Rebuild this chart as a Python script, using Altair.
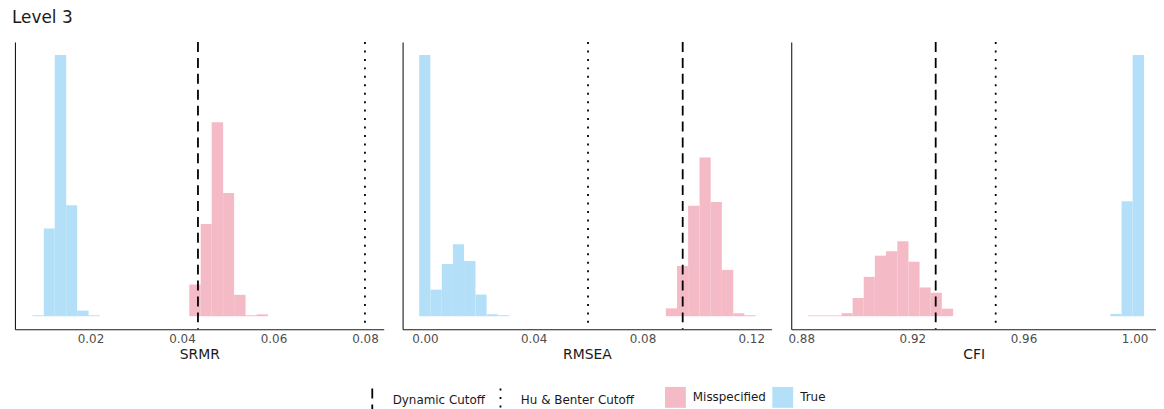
import altair as alt
import pandas as pd

FONT = "DejaVu Sans"

# ---- data ----
metrics = ["SRMR", "RMSEA", "CFI"]

srmr_true_lo = [0.0073, 0.0098, 0.0122, 0.0147, 0.0171, 0.0196]
srmr_true_hi = [0.0098, 0.0122, 0.0147, 0.0171, 0.0196, 0.0220]
srmr_true_n = [1, 94, 280, 119, 6, 1]
srmr_mis_lo = [0.0416, 0.0441, 0.0465, 0.0490, 0.0514, 0.0539, 0.0563]
srmr_mis_hi = [0.0441, 0.0465, 0.0490, 0.0514, 0.0539, 0.0563, 0.0588]
srmr_mis_n = [34, 99, 208, 132, 23, 1, 2]

rmsea_true_lo = [-0.0021, 0.0020, 0.0062, 0.0103, 0.0144, 0.0186, 0.0227, 0.0268]
rmsea_true_hi = [0.0020, 0.0062, 0.0103, 0.0144, 0.0186, 0.0227, 0.0268, 0.0310]
rmsea_true_n = [265, 27, 53, 73, 56, 22, 2, 1]
rmsea_mis_lo = [0.0886, 0.0927, 0.0968, 0.1010, 0.1051, 0.1092, 0.1134, 0.1175]
rmsea_mis_hi = [0.0927, 0.0968, 0.1010, 0.1051, 0.1092, 0.1134, 0.1175, 0.1216]
rmsea_mis_n = [8, 51, 112, 161, 116, 47, 3, 1]

cfi_mis_lo = [0.8824, 0.8864, 0.8904, 0.8945, 0.8985, 0.9025, 0.9065, 0.9105,
              0.9146, 0.9186, 0.9226, 0.9266, 0.9306]
cfi_mis_hi = [0.8864, 0.8904, 0.8945, 0.8985, 0.9025, 0.9065, 0.9105, 0.9146,
              0.9186, 0.9226, 0.9266, 0.9306, 0.9347]
cfi_mis_n = [1, 1, 1, 4, 24, 52, 80, 86, 99, 72, 38, 31, 10]
cfi_true_lo = [0.9913, 0.9953, 0.9993]
cfi_true_hi = [0.9953, 0.9993, 1.0034]
cfi_true_n = [3, 152, 345]

dynamic_cut = [0.0435, 0.0948, 0.9284]
hu_benter_cut = [0.08, 0.06, 0.95]

x_domains = [[0.0035, 0.0841], [-0.0082, 0.1274], [0.8764, 1.0077]]
x_ticks = [[0.02, 0.04, 0.06, 0.08], [0.00, 0.04, 0.08, 0.12], [0.88, 0.92, 0.96, 1.00]]
panel_widths = [371, 371, 367]

series = {
    "SRMR": [("True", srmr_true_lo, srmr_true_hi, srmr_true_n),
             ("Misspecified", srmr_mis_lo, srmr_mis_hi, srmr_mis_n)],
    "RMSEA": [("True", rmsea_true_lo, rmsea_true_hi, rmsea_true_n),
              ("Misspecified", rmsea_mis_lo, rmsea_mis_hi, rmsea_mis_n)],
    "CFI": [("True", cfi_true_lo, cfi_true_hi, cfi_true_n),
            ("Misspecified", cfi_mis_lo, cfi_mis_hi, cfi_mis_n)],
}

color_scale = alt.Scale(domain=["Misspecified", "True"], range=["#F4BAC6", "#B3E0F8"])
dash_scale = alt.Scale(domain=["Dynamic Cutoff", "Hu & Benter Cutoff"],
                       range=[[10, 6], [2, 6.5]])

fill_legend = alt.Legend(title=None, symbolType="square", symbolSize=441,
                         symbolOpacity=1, labelFontSize=12, labelFont=FONT,
                         labelColor="#1a1a1a", direction="horizontal",
                         orient="none", legendX=654, legendY=347,
                         symbolStrokeWidth=0, columnPadding=6, labelOffset=7)
dash_legend = alt.Legend(title=None, symbolType="M0,-1L0,1",
                         symbolSize=500, symbolStrokeColor="black",
                         symbolStrokeWidth=1.8,
                         labelFontSize=12, labelFont=FONT, labelColor="#1a1a1a",
                         direction="horizontal", orient="none",
                         legendX=347, legendY=347,
                         columnPadding=2, labelOffset=8)

panels = []
for i, m in enumerate(metrics):
    rows = []
    for typ, lo, hi, n in series[m]:
        for a, b, c in zip(lo, hi, n):
            rows.append({"lo": a, "hi": b, "count": c, "type": typ})
    hist = pd.DataFrame(rows)
    ymax = hist["count"].max()
    cuts = pd.DataFrame({"value": [dynamic_cut[i], hu_benter_cut[i]],
                         "cut": ["Dynamic Cutoff", "Hu & Benter Cutoff"]})

    xscale = alt.Scale(domain=x_domains[i], nice=False, zero=False)
    xaxis = alt.Axis(values=x_ticks[i], format=".2f", ticks=False, tickSize=0, grid=False,
                     domainColor="#1a1a1a", domainWidth=1.1, labelColor="#4D4D4D",
                     labelFontSize=12, labelPadding=4, labelFont=FONT,
                     title=m, titleFontSize=14, titleFontWeight="normal",
                     titleColor="#1a1a1a", titleFont=FONT, titlePadding=3)

    bars = alt.Chart(hist).mark_rect(strokeWidth=0).encode(
        x=alt.X("lo:Q", scale=xscale, axis=xaxis),
        x2="hi:Q",
        y=alt.Y("count:Q",
                scale=alt.Scale(domain=[-0.05 * ymax, 1.05 * ymax], nice=False, zero=False),
                axis=alt.Axis(labels=False, ticks=False, tickSize=0, grid=False, title=None,
                              domainColor="#1a1a1a", domainWidth=1.1,
                              minExtent=3, maxExtent=3, labelPadding=0)),
        y2=alt.datum(0),
        color=alt.Color("type:N", scale=color_scale, legend=fill_legend),
    )
    rules = alt.Chart(cuts).mark_rule(color="black", strokeWidth=1.8).encode(
        x=alt.X("value:Q", scale=xscale),
        strokeDash=alt.StrokeDash("cut:N", scale=dash_scale, legend=dash_legend),
    )
    panels.append(alt.layer(bars, rules).properties(width=panel_widths[i], height=289))

chart = alt.hconcat(*panels, spacing=16).resolve_scale(
    x="independent", y="independent", color="shared", strokeDash="shared"
).properties(
    title=alt.TitleParams("Level 3", anchor="start", fontSize=17, fontWeight="normal",
                          font=FONT, color="#1a1a1a", offset=14),
    padding={"left": 4, "top": 0, "right": 0, "bottom": 0},
).configure(
    background="white",
    view=alt.ViewConfig(strokeWidth=0, stroke="transparent"),
)

chart.save("out.html", embed_options={"renderer": "svg", "actions": False})
